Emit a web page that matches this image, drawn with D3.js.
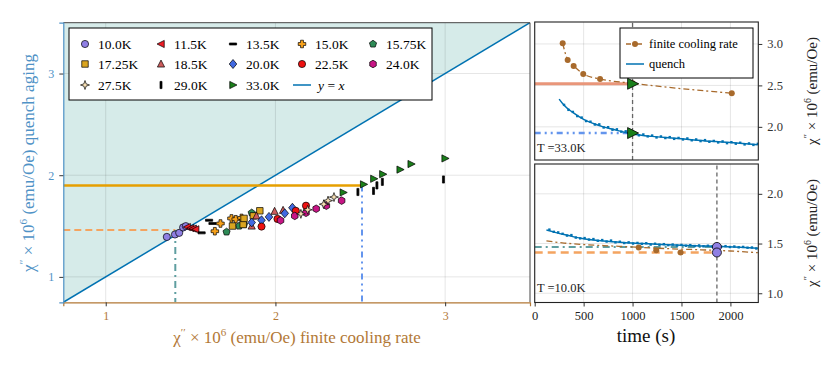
<!DOCTYPE html>
<html><head><meta charset="utf-8">
<script src="https://cdn.jsdelivr.net/npm/d3@7"></script>
<style>body{margin:0;background:#fff} svg{display:block} text{font-family:"Liberation Serif","DejaVu Serif",serif}</style>
</head><body><svg id="c" width="830" height="369"></svg>
<script>
// ---------------- data ----------------
const tempLabels = ["10.0K","11.5K","13.5K","15.0K","15.75K","17.25K","18.5K","20.0K","22.5K","24.0K","27.5K","29.0K","33.0K"];
const finiteRate = [
  [1.36,1.408,1.433,1.456,1.472],
  [1.48,1.50,1.515,1.53],
  [1.565,1.609,1.629],
  [1.643,1.676,1.741,1.766,1.80],
  [1.712,1.786,1.815,1.86],
  [1.747,1.81,1.815,1.87,1.908],
  [1.86,1.888,1.995,2.045],
  [1.86,1.918,1.962,2.055,2.10],
  [1.918,2.012,2.12,2.18],
  [2.03,2.114,2.18,2.24,2.30,2.39],
  [2.15,2.19,2.285,2.31,2.345],
  [2.486,2.578,2.598,2.63,2.99],
  [2.40,2.52,2.58,2.633,2.735,2.80,3.00]
];
const quenchAging = [
  [1.393,1.417,1.433,1.486,1.499],
  [1.49,1.48,1.475,1.468],
  [1.433,1.557,1.525],
  [1.449,1.525,1.575,1.567,1.58],
  [1.442,1.50,1.515,1.63],
  [1.50,1.515,1.575,1.60,1.65],
  [1.50,1.60,1.645,1.655],
  [1.535,1.557,1.59,1.625,1.68],
  [1.495,1.57,1.65,1.70],
  [1.555,1.60,1.63,1.67,1.70,1.75],
  [1.62,1.66,1.715,1.75,1.785],
  [1.835,1.846,1.90,1.935,1.958],
  [1.83,1.91,1.965,2.01,2.055,2.11,2.165]
];
const mainTicks = [1,2,3];
// matched pairs shown with guide lines
const match33 = {finite:2.51, quench:1.90, time:1000};
const match10 = {finite:1.41, quench:1.46, time:1862};

// top-right panel (T = 33.0K)
const fc33Time = [286,337,398,496,668,1000,2014];
const fc33Chi  = [3.008,2.807,2.735,2.639,2.578,2.526,2.405];
const q33CurveTime = [250,300,400,500,600,700,800,1000,1200,1400,1600,1800,2000,2280];
const q33CurveChi  = [2.335,2.26,2.165,2.09,2.04,2.00,1.97,1.915,1.885,1.865,1.845,1.825,1.81,1.785];
const q33DotTime = [300,345,390,435,480,525,570,615,660,705,750,795,840,885,930,975,1020,1065,1110,1155,1200,1245,1290,1335,1380,1425,1470,1515,1560,1605,1650,1695,1740,1785,1830,1875,1920,1965,2010,2055,2100,2145,2190,2235,2280];
const q33DotChi  = [2.265,2.205,2.180,2.130,2.112,2.070,2.062,2.028,2.030,1.992,1.996,1.965,1.970,1.942,1.946,1.918,1.922,1.898,1.908,1.885,1.895,1.872,1.884,1.865,1.876,1.855,1.866,1.848,1.860,1.838,1.848,1.828,1.840,1.820,1.830,1.812,1.824,1.803,1.815,1.797,1.808,1.788,1.800,1.782,1.795];
const m33Finite = 2.52, m33Quench = 1.925;

// bottom-right panel (T = 10.0K)
const fc10Time = [1063,1242,1491];
const fc10Chi  = [1.46,1.432,1.41];
const fc10CurveTime = [120,300,500,800,1100,1400,1700,2000,2280];
const fc10CurveChi  = [1.526,1.505,1.49,1.475,1.46,1.447,1.437,1.425,1.408];
const q10CurveTime = [120,200,300,400,500,700,900,1100,1300,1500,1700,1900,2100,2280];
const q10CurveChi  = [1.636,1.615,1.59,1.567,1.548,1.525,1.51,1.50,1.49,1.482,1.476,1.47,1.462,1.452];
const q10DotTime = [150,195,240,285,330,375,420,465,510,555,600,645,690,735,780,825,870,915,960,1005,1050,1095,1140,1185,1230,1275,1320,1365,1410,1455,1500,1545,1590,1635,1680,1725,1770,1815,1860,1905,1950,1995,2040,2085,2130,2175,2220,2265];
const q10DotChi  = [1.640,1.618,1.612,1.598,1.580,1.585,1.560,1.552,1.555,1.540,1.545,1.528,1.535,1.520,1.530,1.512,1.518,1.505,1.512,1.500,1.506,1.497,1.503,1.490,1.498,1.488,1.494,1.484,1.490,1.480,1.486,1.478,1.484,1.475,1.481,1.472,1.478,1.470,1.476,1.468,1.474,1.465,1.470,1.462,1.466,1.458,1.460,1.450];
const m10Finite = 1.41, m10Quench = 1.466;

const timeTicks = [0,500,1000,1500,2000];
const topTicks = [2.0,2.5,3.0];
const botTicks = [1.0,1.5,2.0];

// ---------------- styles ----------------
const shapes = ["circle","triLeft","hline","cross","pentagon","square","triUp","diamond","circle","hexagon","star4","vline","triRight"];
const colors = ["#8f7fe3","#ee1c25","#000","#f7a11a","#2e8b57","#daa520","#cd5c5c","#4169e1","#ee1111","#c71585","#f5deb3","#000","#1a7f1a"];
const BLUE="#0072b2", BROWN="#a86a2c", LBROWN="#b27836", LBLUE="#4f92c6";

function shapePath(shape, r){
  const P = pts => "M"+pts.map(p=>p[0].toFixed(2)+","+p[1].toFixed(2)).join("L")+"Z";
  const poly = (n,rr,off) => d3.range(n).map(i=>{const a=off+i*2*Math.PI/n;return [rr*Math.cos(a),rr*Math.sin(a)];});
  switch(shape){
    case "circle": return `M${r},0A${r},${r} 0 1,1 ${-r},0A${r},${r} 0 1,1 ${r},0Z`;
    case "triLeft": return P([[-r*1.1,0],[r*0.9,-r],[r*0.9,r]]);
    case "triRight": return P([[r*1.1,0],[-r*0.9,-r],[-r*0.9,r]]);
    case "triUp": return P([[0,-r*1.1],[r,r*0.85],[-r,r*0.85]]);
    case "square": {const s=r*0.9;return P([[-s,-s],[s,-s],[s,s],[-s,s]]);}
    case "diamond": return P([[0,-r*1.25],[r*1.05,0],[0,r*1.25],[-r*1.05,0]]);
    case "cross": {const a=r*1.05,w=r*0.4;return P([[-w,-a],[w,-a],[w,-w],[a,-w],[a,w],[w,w],[w,a],[-w,a],[-w,w],[-a,w],[-a,-w],[-w,-w]]);}
    case "pentagon": return P(poly(5,r*1.05,-Math.PI/2));
    case "hexagon": return P(poly(6,r*1.05,-Math.PI/2));
    case "star4": {const out=[];for(let i=0;i<8;i++){const a=-Math.PI/2+i*Math.PI/4;const rr=i%2?r*0.45:r*1.25;out.push([rr*Math.cos(a),rr*Math.sin(a)]);}return P(out);}
    case "hline": return P([[-r,-r*0.28],[r,-r*0.28],[r,r*0.28],[-r,r*0.28]]);
    case "vline": return P([[-r*0.28,-r],[r*0.28,-r],[r*0.28,r],[-r*0.28,r]]);
  }
}

const svg = d3.select("#c");
svg.append("rect").attr("width",830).attr("height",369).attr("fill","#fff");
const defs = svg.append("defs");

// label helper: chi'' x 10^6 (emu/Oe) + suffix
function chiLabel(g, suffix, size){
  const t = g.append("text").attr("font-size",size);
  t.append("tspan").text("χ");
  t.append("tspan").attr("dy",-size*0.4).attr("font-size",size*0.65).text("′′");
  t.append("tspan").attr("dy",size*0.4).text(" × 10");
  t.append("tspan").attr("dy",-size*0.4).attr("font-size",size*0.65).text("6");
  t.append("tspan").attr("dy",size*0.4).text(" (emu/Oe)"+suffix);
  return t;
}

// ---------------- main panel ----------------
const mx = d3.scaleLinear([0.75,3.5],[63.3,530]);
const my = d3.scaleLinear([0.75,3.5],[302.3,22.7]);
defs.append("clipPath").attr("id","cm").append("rect")
  .attr("x",mx(0.75)).attr("y",my(3.5)).attr("width",mx(3.5)-mx(0.75)).attr("height",my(0.75)-my(3.5));
const gm = svg.append("g").attr("clip-path","url(#cm)");
gm.append("path").attr("fill","#d6ebe9")
  .attr("d",`M${mx(0.75)},${my(0.75)}L${mx(3.5)},${my(3.5)}L${mx(0.75)},${my(3.5)}Z`);
mainTicks.forEach(v=>{
  gm.append("line").attr("x1",mx(v)).attr("x2",mx(v)).attr("y1",my(0.75)).attr("y2",my(3.5)).attr("stroke","#000").attr("stroke-opacity",0.1);
  gm.append("line").attr("y1",my(v)).attr("y2",my(v)).attr("x1",mx(0.75)).attr("x2",mx(3.5)).attr("stroke","#000").attr("stroke-opacity",0.1);
});
const line = d3.line();
gm.append("path").attr("d",line([[mx(0.75),my(0.75)],[mx(3.5),my(3.5)]])).attr("stroke",BLUE).attr("stroke-width",1.5).attr("fill","none");
// guide lines
gm.append("line").attr("x1",mx(0.75)).attr("x2",mx(match33.finite)).attr("y1",my(match33.quench)).attr("y2",my(match33.quench))
  .attr("stroke","#e69f00").attr("stroke-width",2.5);
gm.append("line").attr("x1",mx(match33.finite)).attr("x2",mx(match33.finite)).attr("y1",my(match33.quench)).attr("y2",my(0.75))
  .attr("stroke","#6495ed").attr("stroke-width",2).attr("stroke-dasharray","6,4,2,4,2,4");
gm.append("line").attr("x1",mx(0.75)).attr("x2",mx(match10.finite)).attr("y1",my(match10.quench)).attr("y2",my(match10.quench))
  .attr("stroke","#f4a460").attr("stroke-width",2).attr("stroke-dasharray","7,4");
gm.append("line").attr("x1",mx(match10.finite)).attr("x2",mx(match10.finite)).attr("y1",my(match10.quench)).attr("y2",my(0.75))
  .attr("stroke","#5f9ea0").attr("stroke-width",2).attr("stroke-dasharray","7,4,2,4");
// points
tempLabels.forEach((lab,i)=>{
  const g = gm.append("g");
  finiteRate[i].forEach((x,j)=>{
    g.append("path").attr("d",shapePath(shapes[i],3.6)).attr("transform",`translate(${mx(x)},${my(quenchAging[i][j])})`)
      .attr("fill",colors[i]).attr("stroke","#000").attr("stroke-width",0.7);
  });
});
// frame
svg.append("line").attr("x1",mx(0.75)).attr("x2",mx(3.5)).attr("y1",my(3.5)).attr("y2",my(3.5)).attr("stroke","#444").attr("stroke-width",1);
svg.append("line").attr("x1",mx(3.5)).attr("x2",mx(3.5)).attr("y1",my(3.5)).attr("y2",my(0.75)).attr("stroke","#444").attr("stroke-width",1);
// axes
const ax = svg.append("g").attr("transform",`translate(0,${my(0.75)})`)
  .call(d3.axisBottom(mx).tickValues(mainTicks).tickFormat(d3.format("d")).tickSize(4).tickPadding(5));
ax.select(".domain").attr("stroke",LBROWN).attr("stroke-width",1.2);
ax.selectAll(".tick line").attr("stroke","#333");
ax.selectAll(".tick text").attr("fill",LBROWN).attr("font-size",12).attr("font-family","Liberation Serif");
const ay = svg.append("g").attr("transform",`translate(${mx(0.75)},0)`)
  .call(d3.axisLeft(my).tickValues(mainTicks).tickFormat(d3.format("d")).tickSize(4).tickPadding(5));
ay.select(".domain").attr("stroke",LBLUE).attr("stroke-width",1.2);
ay.selectAll(".tick line").attr("stroke","#333");
ay.selectAll(".tick text").attr("fill",LBLUE).attr("font-size",12).attr("font-family","Liberation Serif");
// axis labels
chiLabel(svg.append("g").attr("transform","translate(297,343)"), " finite cooling rate", 17)
  .attr("text-anchor","middle").attr("fill",LBROWN);
chiLabel(svg.append("g").attr("transform","translate(34,163) rotate(-90)"), " quench aging", 17)
  .attr("text-anchor","middle").attr("fill",LBLUE);

// legend
const lg = svg.append("g");
lg.append("rect").attr("x",69).attr("y",28).attr("width",363).attr("height",72).attr("fill","#fff").attr("stroke","#000").attr("stroke-width",1);
const colX = [85,161,233,302,373], rowY=[44,64,85];
tempLabels.forEach((lab,i)=>{
  const cx = colX[i%5], cy = rowY[Math.floor(i/5)];
  lg.append("path").attr("d",shapePath(shapes[i],3.6)).attr("transform",`translate(${cx},${cy})`)
    .attr("fill",colors[i]).attr("stroke","#000").attr("stroke-width",0.7);
  lg.append("text").attr("x",cx+13).attr("y",cy+4.5).attr("font-size",13.5).text(lab);
});
lg.append("line").attr("x1",293).attr("x2",311).attr("y1",rowY[2]).attr("y2",rowY[2]).attr("stroke",BLUE).attr("stroke-width",1.5);
const yx = lg.append("text").attr("x",318).attr("y",rowY[2]+4.5).attr("font-size",13.5);
yx.append("tspan").attr("font-style","italic").text("y");
yx.append("tspan").text(" = ");
yx.append("tspan").attr("font-style","italic").text("x");

// ---------------- right panels ----------------
const tx = d3.scaleLinear([0,2285],[534.7,758.3]);
function panel(id, yDom, yRange, ticks, showX){
  const y = d3.scaleLinear(yDom, yRange);
  defs.append("clipPath").attr("id",id).append("rect").attr("x",tx(0)).attr("y",yRange[1]).attr("width",tx(2285)-tx(0)).attr("height",yRange[0]-yRange[1]);
  const g = svg.append("g").attr("clip-path",`url(#${id})`);
  timeTicks.forEach(t=>g.append("line").attr("x1",tx(t)).attr("x2",tx(t)).attr("y1",yRange[0]).attr("y2",yRange[1]).attr("stroke","#000").attr("stroke-opacity",0.1));
  ticks.forEach(v=>g.append("line").attr("x1",tx(0)).attr("x2",tx(2285)).attr("y1",y(v)).attr("y2",y(v)).attr("stroke","#000").attr("stroke-opacity",0.1));
  const ar = svg.append("g").attr("transform",`translate(${tx(2285)},0)`)
    .call(d3.axisRight(y).tickValues(ticks).tickFormat(d3.format(".1f")).tickSize(4).tickPadding(5));
  ar.select(".domain").remove();
  ar.selectAll(".tick line").attr("stroke","#333");
  ar.selectAll(".tick text").attr("fill","#333").attr("font-size",12.5).attr("font-family","Liberation Serif");
  if(showX){
    const ab = svg.append("g").attr("transform",`translate(0,${yRange[0]})`)
      .call(d3.axisBottom(tx).tickValues(timeTicks).tickFormat(d3.format("d")).tickSize(4).tickPadding(5));
    ab.select(".domain").remove();
    ab.selectAll(".tick line").attr("stroke","#333");
    ab.selectAll(".tick text").attr("fill","#222").attr("font-size",12.5).attr("font-family","Liberation Serif");
  }
  return {g,y,frame:()=>svg.append("rect").attr("x",tx(0)).attr("y",yRange[1]).attr("width",tx(2285)-tx(0)).attr("height",yRange[0]-yRange[1]).attr("fill","none").attr("stroke","#222").attr("stroke-width",1.1)};
}
const tri = d3.scaleLinear(); // placeholder unused
// top panel
const P1 = panel("c1",[1.6,3.265],[160,22],topTicks,false);
{
  const {g,y}=P1;
  g.append("line").attr("x1",tx(0)).attr("x2",tx(match33.time)).attr("y1",y(m33Finite)).attr("y2",y(m33Finite)).attr("stroke","#e9967a").attr("stroke-width",3);
  g.append("line").attr("x1",tx(0)).attr("x2",tx(match33.time)).attr("y1",y(m33Quench)).attr("y2",y(m33Quench)).attr("stroke","#6495ed").attr("stroke-width",2.5).attr("stroke-dasharray","6,4,2,4,2,4");
  g.append("line").attr("x1",tx(match33.time)).attr("x2",tx(match33.time)).attr("y1",160).attr("y2",22).attr("stroke","#666").attr("stroke-width",1.3).attr("stroke-dasharray","4,3");
  g.append("path").attr("d",d3.line().curve(d3.curveMonotoneX)(fc33Time.map((t,i)=>[tx(t),y(fc33Chi[i])]))).attr("fill","none").attr("stroke",BROWN).attr("stroke-width",1.3).attr("stroke-dasharray","6,3,2,3");
  fc33Time.forEach((t,i)=>g.append("circle").attr("cx",tx(t)).attr("cy",y(fc33Chi[i])).attr("r",3).attr("fill",BROWN));
  g.append("path").attr("d",d3.line().curve(d3.curveMonotoneX)(q33CurveTime.map((t,i)=>[tx(t),y(q33CurveChi[i])]))).attr("fill","none").attr("stroke",BLUE).attr("stroke-width",1.5);
  q33DotTime.forEach((t,i)=>g.append("rect").attr("x",tx(t)-1.2).attr("y",y(q33DotChi[i])-1.2).attr("width",2.4).attr("height",2.4).attr("fill",BLUE));
  [m33Finite,m33Quench].forEach(v=>g.append("path").attr("d",shapePath("triRight",5.5)).attr("transform",`translate(${tx(match33.time)},${y(v)})`).attr("fill","#1a7f1a").attr("stroke","#000").attr("stroke-width",0.8));
  svg.append("text").attr("x",537).attr("y",152).attr("font-size",12.5).attr("fill","#222").text("T =33.0K");
  P1.frame();
  // legend
  const l = svg.append("g");
  l.append("rect").attr("x",620).attr("y",28).attr("width",133).attr("height",50).attr("fill","#fff").attr("stroke","#000").attr("stroke-width",1);
  l.append("line").attr("x1",626).attr("x2",644).attr("y1",44).attr("y2",44).attr("stroke",BROWN).attr("stroke-width",1.3).attr("stroke-dasharray","5,2,2,2");
  l.append("circle").attr("cx",635).attr("cy",44).attr("r",3).attr("fill",BROWN);
  l.append("text").attr("x",649).attr("y",48).attr("font-size",12.5).text("finite cooling rate");
  l.append("line").attr("x1",626).attr("x2",644).attr("y1",64).attr("y2",64).attr("stroke",BLUE).attr("stroke-width",1.5);
  l.append("text").attr("x",649).attr("y",68).attr("font-size",12.5).text("quench");
}
// bottom panel
const P2 = panel("c2",[0.907,2.30],[302.5,164],botTicks,true);
{
  const {g,y}=P2;
  g.append("line").attr("x1",tx(0)).attr("x2",tx(match10.time)).attr("y1",y(m10Finite)).attr("y2",y(m10Finite)).attr("stroke","#f4a460").attr("stroke-width",2.5).attr("stroke-dasharray","8,5");
  g.append("line").attr("x1",tx(0)).attr("x2",tx(match10.time)).attr("y1",y(m10Quench)).attr("y2",y(m10Quench)).attr("stroke","#5f9ea0").attr("stroke-width",2).attr("stroke-dasharray","7,4,2,4");
  g.append("line").attr("x1",tx(match10.time)).attr("x2",tx(match10.time)).attr("y1",302.5).attr("y2",164).attr("stroke","#666").attr("stroke-width",1.3).attr("stroke-dasharray","4,3");
  g.append("path").attr("d",d3.line().curve(d3.curveMonotoneX)(fc10CurveTime.map((t,i)=>[tx(t),y(fc10CurveChi[i])]))).attr("fill","none").attr("stroke",BROWN).attr("stroke-width",1.3).attr("stroke-dasharray","6,3,2,3");
  fc10Time.forEach((t,i)=>g.append("circle").attr("cx",tx(t)).attr("cy",y(fc10Chi[i])).attr("r",3).attr("fill",BROWN));
  g.append("path").attr("d",d3.line().curve(d3.curveMonotoneX)(q10CurveTime.map((t,i)=>[tx(t),y(q10CurveChi[i])]))).attr("fill","none").attr("stroke",BLUE).attr("stroke-width",1.5);
  q10DotTime.forEach((t,i)=>g.append("rect").attr("x",tx(t)-1.2).attr("y",y(q10DotChi[i])-1.2).attr("width",2.4).attr("height",2.4).attr("fill",BLUE));
  [m10Quench,m10Finite].forEach(v=>g.append("circle").attr("cx",tx(match10.time)).attr("cy",y(v)).attr("r",4.5).attr("fill","#8f7fe3").attr("stroke","#000").attr("stroke-width",0.8));
  svg.append("text").attr("x",537).attr("y",292).attr("font-size",12.5).attr("fill","#222").text("T =10.0K");
  P2.frame();
}
svg.append("text").attr("x",646).attr("y",342).attr("text-anchor","middle").attr("font-size",19).attr("fill","#111").text("time (s)");
chiLabel(svg.append("g").attr("transform","translate(817,91) rotate(-90)"), "", 15).attr("text-anchor","middle").attr("fill","#222");
chiLabel(svg.append("g").attr("transform","translate(817,233) rotate(-90)"), "", 15).attr("text-anchor","middle").attr("fill","#222");
</script></body></html>
